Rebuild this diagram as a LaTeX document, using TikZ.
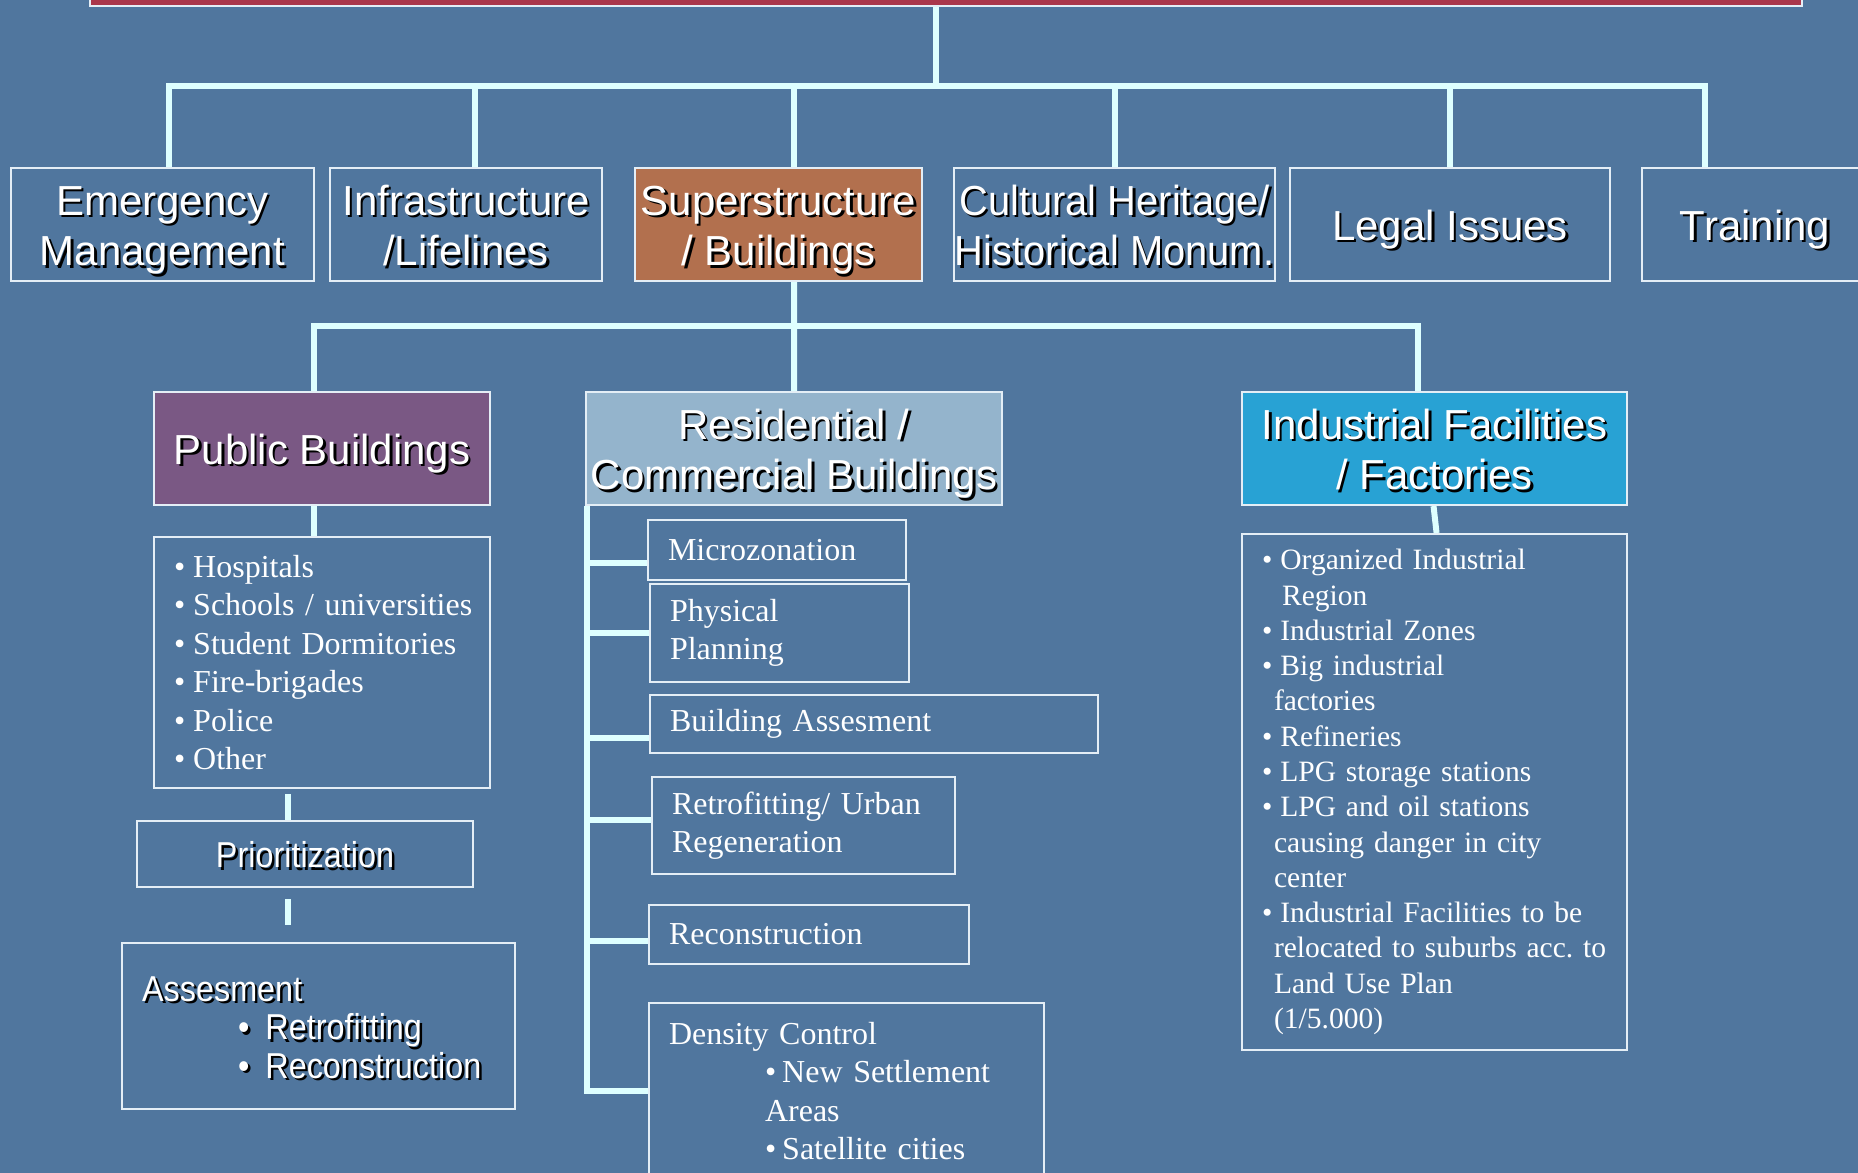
\documentclass[tikz,border=0pt]{standalone}
\usepackage{fontspec}
\setmainfont{Liberation Serif}
\newfontfamily\headfont{Liberation Sans}
\newfontfamily\headnarrow[FakeStretch=0.95]{Liberation Sans}
\newfontfamily\narrowfont[FakeStretch=0.9]{Liberation Sans}
\usetikzlibrary{calc}
\frenchspacing

\definecolor{bgblue}{RGB}{80,118,158}
\definecolor{linkcyan}{RGB}{222,255,255}
\definecolor{boxline}{RGB}{228,238,246}
\definecolor{titlered}{RGB}{170,55,75}
\definecolor{superorange}{RGB}{178,112,78}
\definecolor{pubpurple}{RGB}{122,88,132}
\definecolor{resgray}{RGB}{148,180,204}
\definecolor{indcyan}{RGB}{40,162,212}

\newcommand{\hdsize}{\fontsize{11.95pt}{14.5pt}\selectfont}
\newcommand{\lstsize}{\fontsize{9.1pt}{10.93pt}\selectfont}
\newcommand{\indsize}{\fontsize{8.4pt}{10.04pt}\selectfont}
\newcommand{\nrwsize}{\fontsize{10.24pt}{10.95pt}\selectfont}
% white text with a dark drop shadow, baseline set as in the slide
\newcommand{\shd}[1]{\raisebox{-.38em}[0pt][0pt]{\makebox[0pt][l]{\kern.7pt\raisebox{-.7pt}{\color{black}#1}}#1}}
\newcommand{\bul}[1]{\mbox{\textbullet\hspace{.08cm}#1}}
\newcommand{\cnt}[2]{\mbox{\hspace*{#1}#2}}

\begin{document}
\begin{tikzpicture}[
    link/.style={draw=linkcyan, line width=1.7pt},
    box/.style={draw=boxline, line width=.6pt, anchor=north west, inner sep=0pt, text=white},
    headbox/.style={box, align=center, minimum height=1.13cm, font=\headfont\hdsize},
    listbox/.style={box, align=left, inner xsep=.2cm, font=\lstsize}
  ]
      \fill[bgblue] (0,0) rectangle (18.58,-11.73);
      \useasboundingbox (0,0) rectangle (18.58,-11.73);

      % first level
      \node[box, fill=titlered, minimum width=17.12cm, minimum height=.2cm, anchor=south west] (title) at (.89,-.07) {};
      \coordinate (hub) at (9.36,-.865);

      \node[headbox, minimum width=3.035cm] (emg) at (.095,-1.67) {\shd{Emergency}\\\shd{Management}};
      \node[headbox, minimum width=2.72cm] (infra) at (3.29,-1.67) {\shd{Infrastructure}\\\shd{/Lifelines}};
      \node[headbox, minimum width=2.87cm, fill=superorange] (superstr) at (6.34,-1.67) {\shd{Superstructure}\\\shd{/ Buildings}};
      \node[headbox, minimum width=3.21cm, font=\headnarrow\hdsize] (cult) at (9.53,-1.67) {\shd{Cultural Heritage/}\\\shd{Historical Monum.}};
      \node[headbox, minimum width=3.2cm] (legal) at (12.89,-1.67) {\shd{Legal Issues}};
      \node[headbox, minimum width=2.26cm] (train) at (16.41,-1.67) {\shd{Training}};

      \draw[link] (title.south -| hub) -- (hub);
      \draw[link] ([xshift=.07cm]emg.north) -- ([xshift=.07cm]emg.north |- hub)
        -- ([xshift=-.5cm]train.north |- hub) -- ([xshift=-.5cm]train.north);
      \foreach \n/\dx in {infra/.09, superstr/.155, cult/0, legal/0}
        \draw[link] ([xshift=\dx cm]\n.north) -- ([xshift=\dx cm]\n.north |- hub);

      % second level
      \coordinate (hub2) at (7.93,-3.26);
      \node[headbox, minimum width=3.36cm, fill=pubpurple] (pub) at (1.53,-3.91) {\shd{Public Buildings}};
      \node[headbox, minimum width=4.16cm, fill=resgray] (resi) at (5.85,-3.91) {\shd{Residential /}\\\shd{Commercial Buildings}};
      \node[headbox, minimum width=3.85cm, fill=indcyan] (ind) at (12.41,-3.91) {\shd{Industrial Facilities}\\\shd{/ Factories}};

      \draw[link] ([xshift=.155cm]superstr.south) -- (resi.north);
      \draw[link] ([xshift=-.08cm]pub.north) -- ([xshift=-.08cm]pub.north |- hub2)
        -- ([xshift=-.165cm]ind.north |- hub2) -- ([xshift=-.165cm]ind.north);

      % public buildings
      \node[listbox, text width=2.96cm, inner xsep=.2cm, minimum height=2.51cm] (publist) at (1.53,-5.36)
        {\bul{Hospitals}\\\bul{Schools / universities}\\\bul{Student Dormitories}\\\bul{Fire-brigades}\\\bul{Police}\\\bul{Other}};
      \node[box, font=\narrowfont\nrwsize, minimum width=3.36cm, minimum height=.66cm] (prio) at (1.36,-8.2) {\shd{Prioritization}};
      \node[box, align=left, font=\narrowfont\nrwsize, text width=3.53cm, inner xsep=.2cm, minimum height=1.66cm] (assess) at (1.21,-9.42)
        {\shd{Assesment}\\\cnt{.96cm}{\shd{\textbullet}\hspace{.16cm}\shd{Retrofitting}}\\\cnt{.96cm}{\shd{\textbullet}\hspace{.16cm}\shd{Reconstruction}}};

      \draw[link] ([xshift=-.08cm]pub.south) -- ([xshift=-.08cm]publist.north);
      \draw[link] ([xshift=-.17cm,yshift=-.05cm]prio.north |- publist.south) -- ([xshift=-.17cm]prio.north);
      \draw[link] ([xshift=-.17cm,yshift=-.11cm]prio.south) -- ([xshift=-.17cm,yshift=.17cm]prio.south |- assess.north);

      % residential / commercial buildings
      \node[listbox, text width=2.18cm, minimum height=.6cm] (micro) at (6.47,-5.19) {Microzonation};
      \node[listbox, text width=2.19cm, minimum height=.98cm] (phys) at (6.49,-5.83) {Physical\\Planning};
      \node[listbox, text width=4.08cm, minimum height=.58cm] (bldg) at (6.49,-6.94) {Building Assesment};
      \node[listbox, text width=2.63cm, minimum height=.97cm] (retro) at (6.51,-7.76) {Retrofitting/ Urban\\Regeneration};
      \node[listbox, text width=2.8cm, minimum height=.59cm] (recon) at (6.48,-9.04) {Reconstruction};
      \node[listbox, text width=3.55cm, minimum height=1.76cm] (dens) at (6.48,-10.02)
        {Density Control\\\cnt{.96cm}{\textbullet\hspace{.06cm}New Settlement}\\\cnt{.96cm}{Areas}\\\cnt{.96cm}{\textbullet\hspace{.06cm}Satellite cities}};

      \coordinate (rtop) at ([xshift=.02cm]resi.south west);
      \draw[link] (rtop) |- (dens.west);
      \foreach \n/\dy in {micro/-.13, phys/0, bldg/-.14, retro/.06, recon/-.065}
        \draw[link] ([yshift=\dy cm]\n.west -| rtop) -- ([yshift=\dy cm]\n.west);

      % industrial facilities
      \node[listbox, font=\indsize, text width=3.45cm, inner xsep=.2cm, minimum height=5.16cm] (indlist) at (12.41,-5.33)
        {\bul{Organized Industrial}\\\cnt{.2cm}{Region}\\\bul{Industrial Zones}\\\bul{Big industrial}\\\cnt{.12cm}{factories}\\
         \bul{Refineries}\\\bul{LPG storage stations}\\\bul{LPG and oil stations}\\\cnt{.12cm}{causing danger in city}\\\cnt{.12cm}{center}\\
         \bul{Industrial Facilities to be}\\\cnt{.12cm}{relocated to suburbs acc. to}\\\cnt{.12cm}{Land Use Plan}\\\cnt{.12cm}{(1/5.000)}};
      \draw[link] ([xshift=-.01cm]ind.south) -- ([xshift=.02cm]indlist.north);
\end{tikzpicture}
\end{document}
